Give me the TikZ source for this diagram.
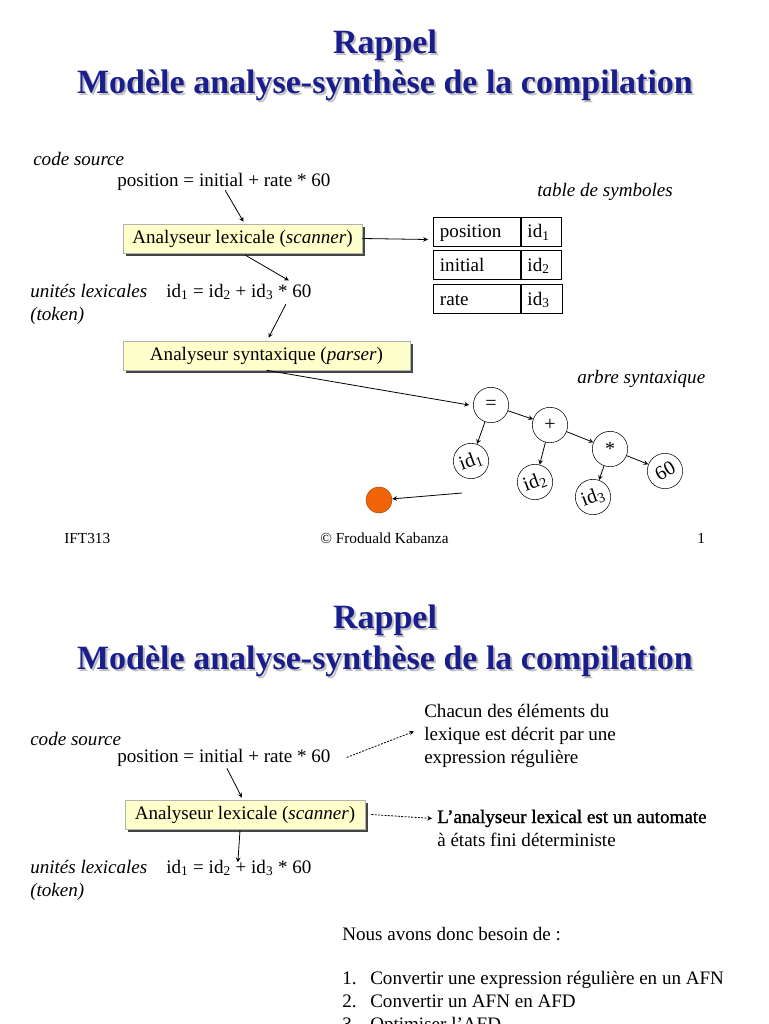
\documentclass[tikz,border=0pt]{standalone}
\usepackage{fontspec}
\setmainfont{Liberation Serif}
\newfontfamily\grasfont[FakeBold=1.2]{Liberation Serif}
\usetikzlibrary{shadows,positioning}
\definecolor{titleblue}{RGB}{25,30,140}
\definecolor{boxyellow}{RGB}{255,255,204}
\definecolor{dotorange}{RGB}{242,100,10}

\begin{document}
\begin{tikzpicture}[>=stealth, x=0.75pt, y=-0.75pt,
  every node/.style={font=\fontsize{14.3}{16}\selectfont, inner sep=0pt},
  txt/.style={anchor=base west},
  note/.style={txt, font=\fontsize{14.3}{16}\selectfont\itshape},
  titre/.style={font=\fontsize{25.5}{30}\selectfont\bfseries, text=titleblue},
  ombre/.style={titre, text=gray!50},
  stage/.style={draw=gray!60, fill=boxyellow, minimum height=21.75pt,
    drop shadow={opacity=1, fill=gray!55!black, shadow xshift=2.2pt, shadow yshift=-2.2pt}},
  cell/.style={draw, minimum height=22pt, text height=10.5pt, text depth=1.5pt, inner xsep=5pt},
  noeud/.style={draw, circle, minimum size=26.5pt, font=\fontsize{15}{17}\selectfont},
  fleche/.style={->, line width=0.6pt},
  tirets/.style={->, line width=0.6pt, dash pattern=on 1.5pt off 1pt},
  pied/.style={anchor=base west, font=\fontsize{11.5}{13}\selectfont}]
  \useasboundingbox[fill=white] (0,0) rectangle (768,1024);

  % ---- first slide
  \node[ombre] at (387,47) {Rappel};
  \node[titre] (t1) at (385,45) {Rappel};
  \node[ombre] at (387,87) {Modèle analyse-synthèse de la compilation};
  \node[titre] (t2) at (385,85) {Modèle analyse-synthèse de la compilation};

  \node[note] (cs) at (33,165) {code source};
  \node[txt] (src) at (117,186) {position = initial + rate * 60};
  \node[stage, minimum width=179.25pt] (lex) at (242.5,238.5) {Analyseur lexicale (\textit{scanner})};
  \node[note] (ts) at (537,196) {table de symboles};
  \node[cell, text width=55.25pt, anchor=west] (p1) at (433,231.5) {position};
  \node[cell, text width=20pt, right=0pt of p1] (q1) {id\textsubscript{1}};
  \node[cell, text width=55.25pt, anchor=west] (p2) at (433,265) {initial};
  \node[cell, text width=20pt, right=0pt of p2] (q2) {id\textsubscript{2}};
  \node[cell, text width=55.25pt, anchor=west] (p3) at (433,299) {rate};
  \node[cell, text width=21pt, right=0pt of p3] (q3) {id\textsubscript{3}};
  \node[note] (ul) at (30,297) {unités lexicales};
  \node[note] (tk) at (30,320) {(token)};
  \node[txt] (tok) at (166,297) {id\textsubscript{1} = id\textsubscript{2} + id\textsubscript{3} * 60};
  \node[stage, minimum width=215.25pt] (syn) at (266.5,355.5) {Analyseur syntaxique (\textit{parser})};
  \node[note] (as) at (577,383) {arbre syntaxique};

  \node[noeud] (eq) at (491,405) {=};
  \node[noeud] (plus) at (550,425) {+};
  \node[noeud] (mul) at (610,449) {*};
  \node[noeud, rotate=20] (i1) at (471,461) {id\textsubscript{1}};
  \node[noeud, rotate=20] (i2) at (535,482) {id\textsubscript{2}};
  \node[noeud, rotate=20] (i3) at (593,497) {id\textsubscript{3}};
  \node[noeud, rotate=30] (n60) at (665,471) {60};
  \node[circle, draw=dotorange!70!black, fill=dotorange, minimum size=19.5pt] (dot) at (379,500) {};
  \coordinate (dotsrc) at (462,493);

  \draw[fleche] ([xshift=1pt]src.south) -- ([shift={(1,-2)}]lex.north);
  \draw[fleche] (lex.east) -- ([shift={(-5,8)}]p1.west);
  \draw[fleche] ([shift={(3,2)}]lex.south) -- ([shift={(50,-3)}]tok.north);
  \draw[fleche] ([shift={(47,4)}]tok.south) -- ([shift={(2,-3)}]syn.north);
  \draw[fleche] (syn.south) -- ([xshift=-3pt]eq.west);
  \draw[fleche] (eq) -- (plus);
  \draw[fleche] (eq) -- (i1);
  \draw[fleche] (plus) -- (mul);
  \draw[fleche] (plus) -- (i2);
  \draw[fleche] (mul) -- (i3);
  \draw[fleche] (mul) -- (n60);
  \draw[fleche] (dotsrc) -- (dot);

  \node[pied] (f1) at (64,543) {IFT313};
  \node[pied] (f2) at (320,543) {© Froduald Kabanza};
  \node[pied] (f3) at (697,543) {1};

  % ---- second slide
  \node[ombre] at (387,622) {Rappel};
  \node[titre] (t3) at (385,620) {Rappel};
  \node[ombre] at (387,663) {Modèle analyse-synthèse de la compilation};
  \node[titre] (t4) at (385,661) {Modèle analyse-synthèse de la compilation};

  \node[note] (cs2) at (30,745) {code source};
  \node[txt] (src2) at (117,762) {position = initial + rate * 60};
  \node[txt] (ch1) at (424,717) {Chacun des éléments du};
  \node[txt] (ch2) at (424,740) {lexique est décrit par une};
  \node[txt] (ch3) at (424,763) {expression régulière};
  \node[stage, minimum width=180pt] (lex2) at (245,814.5) {Analyseur lexicale (\textit{scanner})};
  \node[txt, font=\fontsize{14.3}{16}\grasfont] (au1) at (437,823) {L’analyseur lexical est un automate};
  \node[txt] (au2) at (437,846) {à états fini déterministe};
  \node[note] (ul2) at (30,873) {unités lexicales};
  \node[note] (tk2) at (30,896) {(token)};
  \node[txt] (tok2) at (166,873) {id\textsubscript{1} = id\textsubscript{2} + id\textsubscript{3} * 60};

  \draw[tirets] ([xshift=12pt]src2.east) -- ([shift={(-10,-4)}]ch2.west);
  \draw[fleche] ([shift={(3,2)}]src2.south) -- ([shift={(-3,-2)}]lex2.north);
  \draw[tirets] ([xshift=4.5pt]lex2.east) -- ([xshift=-3.75pt]au1.west);
  \draw[fleche] ([shift={(-5,1)}]lex2.south) -- ([shift={(-1,-14)}]tok2.south);

  \node[txt] (nb) at (342,940) {Nous avons donc besoin de :};
  \node[txt] (l1) at (342,984) {\makebox[21pt][l]{1.}Convertir une expression régulière en un AFN};
  \node[txt] (l2) at (342,1007) {\makebox[21pt][l]{2.}Convertir un AFN en AFD};
  \node[txt] (l3) at (342,1030) {\makebox[21pt][l]{3.}Optimiser l’AFD};
\end{tikzpicture}
\end{document}
